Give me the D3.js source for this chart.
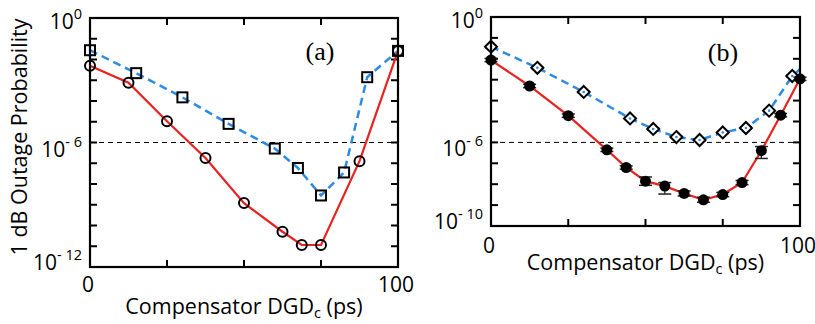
<!DOCTYPE html>
<html><head><meta charset="utf-8">
<script src="https://cdn.jsdelivr.net/npm/d3@7"></script>
<style>body{margin:0;background:#fff}svg{display:block}</style>
</head><body><svg id="c" width="815" height="324"></svg>
<script>
// ---------- data ----------
// Panel (a)
const aSqX = [0, 15, 30, 45, 60, 67.5, 75, 82.5, 90, 100];
const aSqY = [2.8e-2, 2.2e-3, 1.5e-4, 7.9e-6, 5.1e-7, 5.9e-8, 2.8e-9, 3.6e-8, 1.4e-3, 2.6e-2];
const aCiX = [0, 12.5, 25, 37.5, 50, 62.5, 68.75, 75, 87.5, 100];
const aCiY = [5.0e-3, 7.6e-4, 1.05e-5, 1.8e-7, 1.2e-9, 5.0e-11, 1.15e-11, 1.15e-11, 1.26e-7, 2.6e-2];
// Panel (b)
const bDiX = [0, 15, 30, 45, 52.5, 60, 67.5, 75, 82.5, 90, 97.5, 100];
const bDiY = [3.8e-2, 3.7e-3, 2.6e-4, 1.4e-5, 4.4e-6, 1.8e-6, 1.3e-6, 3.0e-6, 4.9e-6, 3.3e-5, 1.5e-3, 3.2e-3];
const bDiMarker = [1,1,1,1,1,1,1,1,1,1,1,0];
const bCiX = [0, 12.5, 25, 37.5, 43.75, 50, 56.25, 62.5, 68.75, 75, 81.25, 87.5, 93.75, 100];
const bCiY = [8.7e-3, 5.0e-4, 1.9e-5, 4.4e-7, 6.3e-8, 1.4e-8, 8.1e-9, 3.6e-9, 1.8e-9, 3.2e-9, 1.2e-8, 4.0e-7, 2.0e-5, 1.1e-3];
// error bars, in decades (down, up)
const bCiErrDown = [0.08, 0.08, 0.08, 0.08, 0.08, 0.2, 0.38, 0.12, 0.12, 0.1, 0.1, 0.37, 0.08, 0.08];
const bCiErrUp   = [0.08, 0.08, 0.08, 0.08, 0.08, 0.2, 0.17, 0.12, 0.12, 0.1, 0.1, 0.2, 0.08, 0.08];
const bDiErr = [0.05, 0.05, 0.05, 0.05, 0.05, 0.05, 0.05, 0.05, 0.05, 0.05, 0.05, 0.05];
// axes
const xTicks = [0, 25, 50, 75, 100];
const xTickLabels = [0, 100];
const aYLabelExps = [0, -6, -12];
const bYLabelExps = [0, -6, -10];
const threshold = 1e-6;
const xTitle = "Compensator DGD";
const xTitleSub = "c";
const xTitleTail = " (ps)";
const yTitle = "1 dB Outage Probability";

// ---------- drawing ----------
const svg = d3.select("#c");
const RED = "#e8221f", BLUE = "#2b8be6";
const FONT = "'Open Sans', 'DejaVu Sans', sans-serif";

function panel(cfg) {
  const x = d3.scaleLinear().domain([0, 100]).range([cfg.left, cfg.right]);
  const y = d3.scaleLog().domain([1, Math.pow(10, cfg.minExp)]).range([cfg.top, cfg.bottom]);
  const g = svg.append("g");

  // threshold dashed line
  g.append("line").attr("x1", cfg.left).attr("x2", cfg.right)
    .attr("y1", y(threshold)).attr("y2", y(threshold))
    .attr("stroke", "#000").attr("stroke-width", 1).attr("stroke-dasharray", "5,4");

  // ticks
  const yTicks = d3.range(0, cfg.minExp - 1, -1).map(e => Math.pow(10, e));
  const tl = 7;
  yTicks.forEach(t => {
    g.append("line").attr("x1", cfg.left).attr("x2", cfg.left + tl).attr("y1", y(t)).attr("y2", y(t)).attr("stroke", "#000").attr("stroke-width", 2);
    g.append("line").attr("x1", cfg.right).attr("x2", cfg.right - tl).attr("y1", y(t)).attr("y2", y(t)).attr("stroke", "#000").attr("stroke-width", 2);
  });
  xTicks.forEach(t => {
    g.append("line").attr("x1", x(t)).attr("x2", x(t)).attr("y1", cfg.bottom).attr("y2", cfg.bottom - tl).attr("stroke", "#000").attr("stroke-width", 2);
    g.append("line").attr("x1", x(t)).attr("x2", x(t)).attr("y1", cfg.top).attr("y2", cfg.top + tl).attr("stroke", "#000").attr("stroke-width", 2);
  });

  // lines
  const line = d3.line().x(d => x(d[0])).y(d => y(d[1]));
  g.append("path").datum(cfg.sx.map((v, i) => [v, cfg.sy[i]])).attr("d", line)
    .attr("fill", "none").attr("stroke", BLUE).attr("stroke-width", 2.5).attr("stroke-dasharray", "8,5");
  g.append("path").datum(cfg.cx.map((v, i) => [v, cfg.cy[i]])).attr("d", line)
    .attr("fill", "none").attr("stroke", RED).attr("stroke-width", 2.2);

  cfg.markers(g, x, y);

  // frame
  g.append("rect").attr("x", cfg.left).attr("y", cfg.top)
    .attr("width", cfg.right - cfg.left).attr("height", cfg.bottom - cfg.top)
    .attr("fill", "none").attr("stroke", "#000").attr("stroke-width", 2.2);

  // y tick labels
  cfg.yLabels.forEach((e, i) => {
    const off = i === 0 ? 11 : (i === cfg.yLabels.length - 1 ? 3 : 14);
    const t = g.append("text").attr("x", cfg.left - 8).attr("y", y(Math.pow(10, e)) + off)
      .attr("text-anchor", "end").attr("font-family", FONT).attr("font-size", 21);
    t.append("tspan").text("10");
    t.append("tspan").attr("font-size", 14.5).attr("dy", -10).text(e === 0 ? "0" : "- " + (-e));
  });
  // x tick labels
  xTickLabels.forEach(v => {
    g.append("text").attr("x", x(v) - 2).attr("y", cfg.bottom + cfg.tickOff)
      .attr("text-anchor", "middle").attr("font-family", FONT).attr("font-size", 21).text(v);
  });
  // x title
  const xt = g.append("text").attr("x", (cfg.left + cfg.right) / 2).attr("y", cfg.bottom + cfg.titleOff)
    .attr("text-anchor", "middle").attr("font-family", FONT).attr("font-size", 21.5);
  xt.append("tspan").text(xTitle);
  xt.append("tspan").attr("font-size", 14.5).attr("dy", 4).text(xTitleSub);
  xt.append("tspan").attr("dy", -4).text(xTitleTail);

  // panel label
  g.append("text").attr("x", cfg.labX).attr("y", cfg.labY).attr("text-anchor", "middle")
    .attr("font-family", "'Liberation Serif', 'Times New Roman', serif").attr("font-size", 26).text(cfg.label);
  return {x, y};
}

panel({
  left: 90, right: 398, top: 18, bottom: 267, minExp: -12,
  sx: aSqX, sy: aSqY, cx: aCiX, cy: aCiY, yLabels: aYLabelExps,
  tickOff: 25, titleOff: 47, label: "(a)", labX: 320, labY: 60,
  markers: (g, x, y) => {
    aSqX.forEach((v, i) => {
      g.append("rect").attr("x", x(v) - 5).attr("y", y(aSqY[i]) - 5).attr("width", 10).attr("height", 10)
        .attr("fill", "none").attr("stroke", "#000").attr("stroke-width", 2);
    });
    aCiX.forEach((v, i) => {
      g.append("circle").attr("cx", x(v)).attr("cy", y(aCiY[i])).attr("r", 5)
        .attr("fill", "none").attr("stroke", "#000").attr("stroke-width", 2);
    });
  }
});

panel({
  left: 491, right: 800, top: 17, bottom: 226, minExp: -10,
  sx: bDiX, sy: bDiY, cx: bCiX, cy: bCiY, yLabels: bYLabelExps,
  tickOff: 27, titleOff: 44, label: "(b)", labX: 723, labY: 61,
  markers: (g, x, y) => {
    const eb = (xv, yv, dn, up, w) => {
      const y1 = y(yv * Math.pow(10, -dn)), y2 = y(yv * Math.pow(10, up)), cx = x(xv);
      g.append("line").attr("x1", cx).attr("x2", cx).attr("y1", y1).attr("y2", y2).attr("stroke", "#222").attr("stroke-width", 1.3);
      [y1, y2].forEach(yy => g.append("line").attr("x1", cx - w).attr("x2", cx + w).attr("y1", yy).attr("y2", yy).attr("stroke", "#222").attr("stroke-width", 1.5));
    };
    bDiX.forEach((v, i) => {
      if (!bDiMarker[i]) return;
      eb(v, bDiY[i], bDiErr[i], bDiErr[i], 6);
      const cx = x(v), cy = y(bDiY[i]);
      g.append("path").attr("d", `M${cx},${cy-6}L${cx+6},${cy}L${cx},${cy+6}L${cx-6},${cy}Z`)
        .attr("fill", "#fff").attr("stroke", "#000").attr("stroke-width", 2);
      g.append("circle").attr("cx", cx).attr("cy", cy).attr("r", 1.3).attr("fill", BLUE);
    });
    bCiX.forEach((v, i) => {
      eb(v, bCiY[i], bCiErrDown[i], bCiErrUp[i], 6.5);
      g.append("circle").attr("cx", x(v)).attr("cy", y(bCiY[i])).attr("r", 5.5).attr("fill", "#000");
    });
  }
});

// y title
svg.append("text").attr("transform", "translate(27,137) rotate(-90)")
  .attr("text-anchor", "middle").attr("font-family", FONT).attr("font-size", 21.5).text(yTitle);
</script>
</body></html>
